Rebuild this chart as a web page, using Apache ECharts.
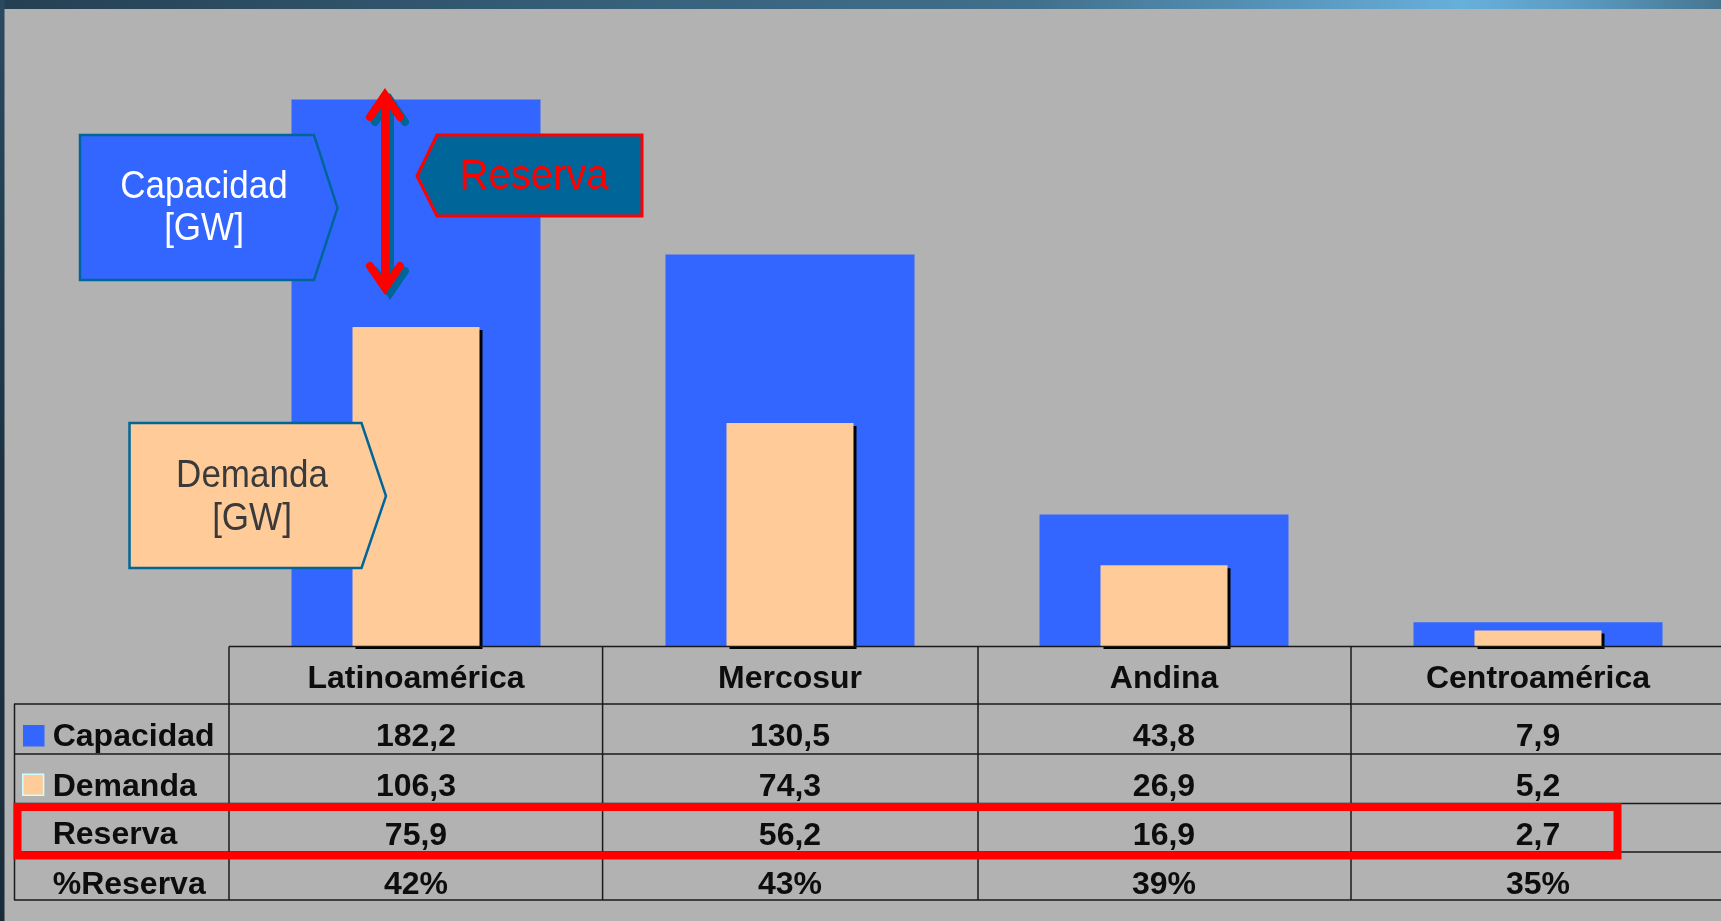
<!DOCTYPE html>
<html>
<head>
<meta charset="utf-8">
<script src="https://cdn.jsdelivr.net/npm/echarts@6/dist/echarts.min.js"></script>
<style>
html,body{margin:0;padding:0;background:#b2b2b2;}
#c{width:1721px;height:921px;}
</style>
</head>
<body>
<div id="c"></div>
<script>
// ---- data ----
const categories = ['Latinoamérica', 'Mercosur', 'Andina', 'Centroamérica'];
const capacidad = [182.2, 130.5, 43.8, 7.9];
const demanda = [106.3, 74.3, 26.9, 5.2];
const reserva = [75.9, 56.2, 16.9, 2.7];
const pctReserva = [42, 43, 39, 35];
const rowLabels = ['Capacidad', 'Demanda', 'Reserva', '%Reserva'];

const FAMILY = '"Liberation Sans", Arial, sans-serif';
const fmt = v => v.toFixed(1).replace('.', ',');
const catIdx = categories.map((c, i) => i);

const chart = echarts.init(document.getElementById('c'), null, {renderer: 'canvas'});

// table geometry (layout only)
const tTop = 646.5, rowYs = [704, 754, 803.5, 852, 900];
const colXs = [229, 602.6, 978, 1351];
const lineStyle = {stroke: '#1a1a1a', lineWidth: 1.5};
const g = [];

// background frame
g.push({type: 'rect', z: 0, shape: {x: 0, y: 0, width: 1721, height: 9},
  style: {fill: new echarts.graphic.LinearGradient(0, 0, 1, 0, [
    {offset: 0, color: '#253f52'}, {offset: 0.35, color: '#36607a'},
    {offset: 0.6, color: '#41708c'}, {offset: 0.85, color: '#67b0dc'},
    {offset: 0.92, color: '#5a9ac0'}, {offset: 1, color: '#46758f'}])}});
g.push({type: 'rect', z: 0, shape: {x: 0, y: 0, width: 4.5, height: 921},
  style: {fill: new echarts.graphic.LinearGradient(0, 0, 0, 1, [
    {offset: 0, color: '#2a4a60'}, {offset: 0.5, color: '#1d3344'}, {offset: 1, color: '#1a2c3a'}])}});

// table lines
g.push({type: 'line', z: 50, shape: {x1: 229, y1: tTop, x2: 1721, y2: tTop}, style: lineStyle});
rowYs.forEach(y => g.push({type: 'line', z: 50, shape: {x1: 14, y1: y, x2: 1721, y2: y}, style: lineStyle}));
g.push({type: 'line', z: 50, shape: {x1: 14.5, y1: 704, x2: 14.5, y2: 900}, style: lineStyle});
colXs.forEach(x => g.push({type: 'line', z: 50, shape: {x1: x, y1: tTop, x2: x, y2: 900}, style: lineStyle}));

// row labels
const labelYs = [737.5, 787, 835.5, 885];
rowLabels.forEach((t, i) => g.push({type: 'text', z: 60, x: 52.7, y: labelYs[i],
  style: {text: t, font: 'bold 32px ' + FAMILY, fill: '#0d0d0d', align: 'left', verticalAlign: 'middle'}}));
// legend keys
g.push({type: 'rect', z: 60, shape: {x: 23, y: 725, width: 21.5, height: 21.5}, style: {fill: '#3366ff'}});
g.push({type: 'rect', z: 60, shape: {x: 22.8, y: 774.3, width: 20.8, height: 21}, style: {fill: '#ffcc99', stroke: '#ccffff', lineWidth: 1.5}});
// red highlight box around Reserva row
g.push({type: 'rect', z: 70, shape: {x: 17.5, y: 807, width: 1600, height: 48.5},
  style: {fill: null, stroke: '#ff0000', lineWidth: 8}});

// callouts
g.push({type: 'polygon', z: 80, shape: {points: [[80, 135], [314, 135], [337.5, 208], [314, 280], [80, 280]]},
  style: {fill: '#3366ff', stroke: '#006699', lineWidth: 2.5}});
g.push({type: 'text', z: 81, x: 204, y: 208, scaleY: 1.12,
  style: {text: 'Capacidad\n[GW]', font: '35px ' + FAMILY, fill: '#ffffff', align: 'center', verticalAlign: 'middle',
    lineHeight: 38, textShadowColor: '#000', textShadowOffsetX: 2, textShadowOffsetY: 2, textShadowBlur: 0}});
g.push({type: 'polygon', z: 80, shape: {points: [[129.5, 423], [361.5, 423], [386, 496], [361.5, 568], [129.5, 568]]},
  style: {fill: '#ffcc99', stroke: '#006699', lineWidth: 2.5}});
g.push({type: 'text', z: 81, x: 252, y: 498, scaleY: 1.1,
  style: {text: 'Demanda\n[GW]', font: '35px ' + FAMILY, fill: '#3a3a3a', align: 'center', verticalAlign: 'middle',
    lineHeight: 38.5, textShadowColor: '#000', textShadowOffsetX: 1.5, textShadowOffsetY: 1.5, textShadowBlur: 0}});
g.push({type: 'polygon', z: 80, shape: {points: [[417, 176], [437, 135], [642, 135], [642, 216], [437, 216]]},
  style: {fill: '#006699', stroke: '#ff0000', lineWidth: 3}});
g.push({type: 'text', z: 81, x: 534, y: 177, scaleY: 1.05,
  style: {text: 'Reserva', font: '40px ' + FAMILY, fill: '#ff0000', align: 'center', verticalAlign: 'middle',
    textShadowColor: '#000', textShadowOffsetX: 2, textShadowOffsetY: 2, textShadowBlur: 0}});

// double arrow (shadow + red)
function arrow(dx, dy, color, z) {
  const st = {stroke: color, lineWidth: 8, lineCap: 'round', lineJoin: 'miter', fill: null};
  g.push({type: 'line', z: z, shape: {x1: 385 + dx, y1: 96 + dy, x2: 385 + dx, y2: 287 + dy}, style: st});
  g.push({type: 'polyline', z: z, shape: {points: [[370 + dx, 117 + dy], [385 + dx, 95 + dy], [400 + dx, 117 + dy]]}, style: st});
  g.push({type: 'polyline', z: z, shape: {points: [[370 + dx, 266 + dy], [385 + dx, 288 + dy], [400 + dx, 266 + dy]]}, style: st});
}
arrow(5, 5, '#006699', 82);
arrow(0, 0, '#ff0000', 83);

const xMin = -0.5, xMax = 3.4893;
const option = {
  backgroundColor: '#b2b2b2',
  animation: false,
  grid: {left: 229, right: 0, top: 46, bottom: 275, containLabel: false},
  xAxis: [
    {type: 'value', min: xMin, max: xMax, position: 'bottom',
      axisLine: {show: false}, axisTick: {show: false}, splitLine: {show: false},
      axisLabel: {customValues: catIdx, margin: 0, color: '#0d0d0d',
        fontSize: 32, fontWeight: 'bold', fontFamily: FAMILY,
        formatter: (v) => { const i = Math.round(v); return `{h|${categories[i]}}\n{v|${fmt(capacidad[i])}}\n{v|${fmt(demanda[i])}}\n{v|${fmt(reserva[i])}}\n{v|${pctReserva[i]}%}`; },
        rich: {
          h: {fontSize: 32, fontWeight: 'bold', fontFamily: FAMILY, lineHeight: 67, color: '#0d0d0d'},
          v: {fontSize: 32, fontWeight: 'bold', fontFamily: FAMILY, lineHeight: 49.3, color: '#0d0d0d'}
        }}},
    {type: 'value', min: xMin, max: xMax, position: 'bottom', show: false}
  ],
  yAxis: {type: 'value', min: 0, max: 200, show: false},
  series: [
    {name: 'Capacidad', type: 'bar', xAxisIndex: 0, barWidth: 249,
      data: capacidad.map((v, i) => [catIdx[i], v]),
      itemStyle: {color: '#3366ff'}, z: 2},
    {name: 'Demanda', type: 'bar', xAxisIndex: 1, barWidth: 127,
      data: demanda.map((v, i) => [catIdx[i], v]), z: 3,
      itemStyle: {color: '#ffcc99',
        shadowColor: '#000', shadowOffsetX: 3, shadowOffsetY: 3, shadowBlur: 0}}
  ],
  graphic: {elements: g}
};
chart.setOption(option);
</script>
</body>
</html>
